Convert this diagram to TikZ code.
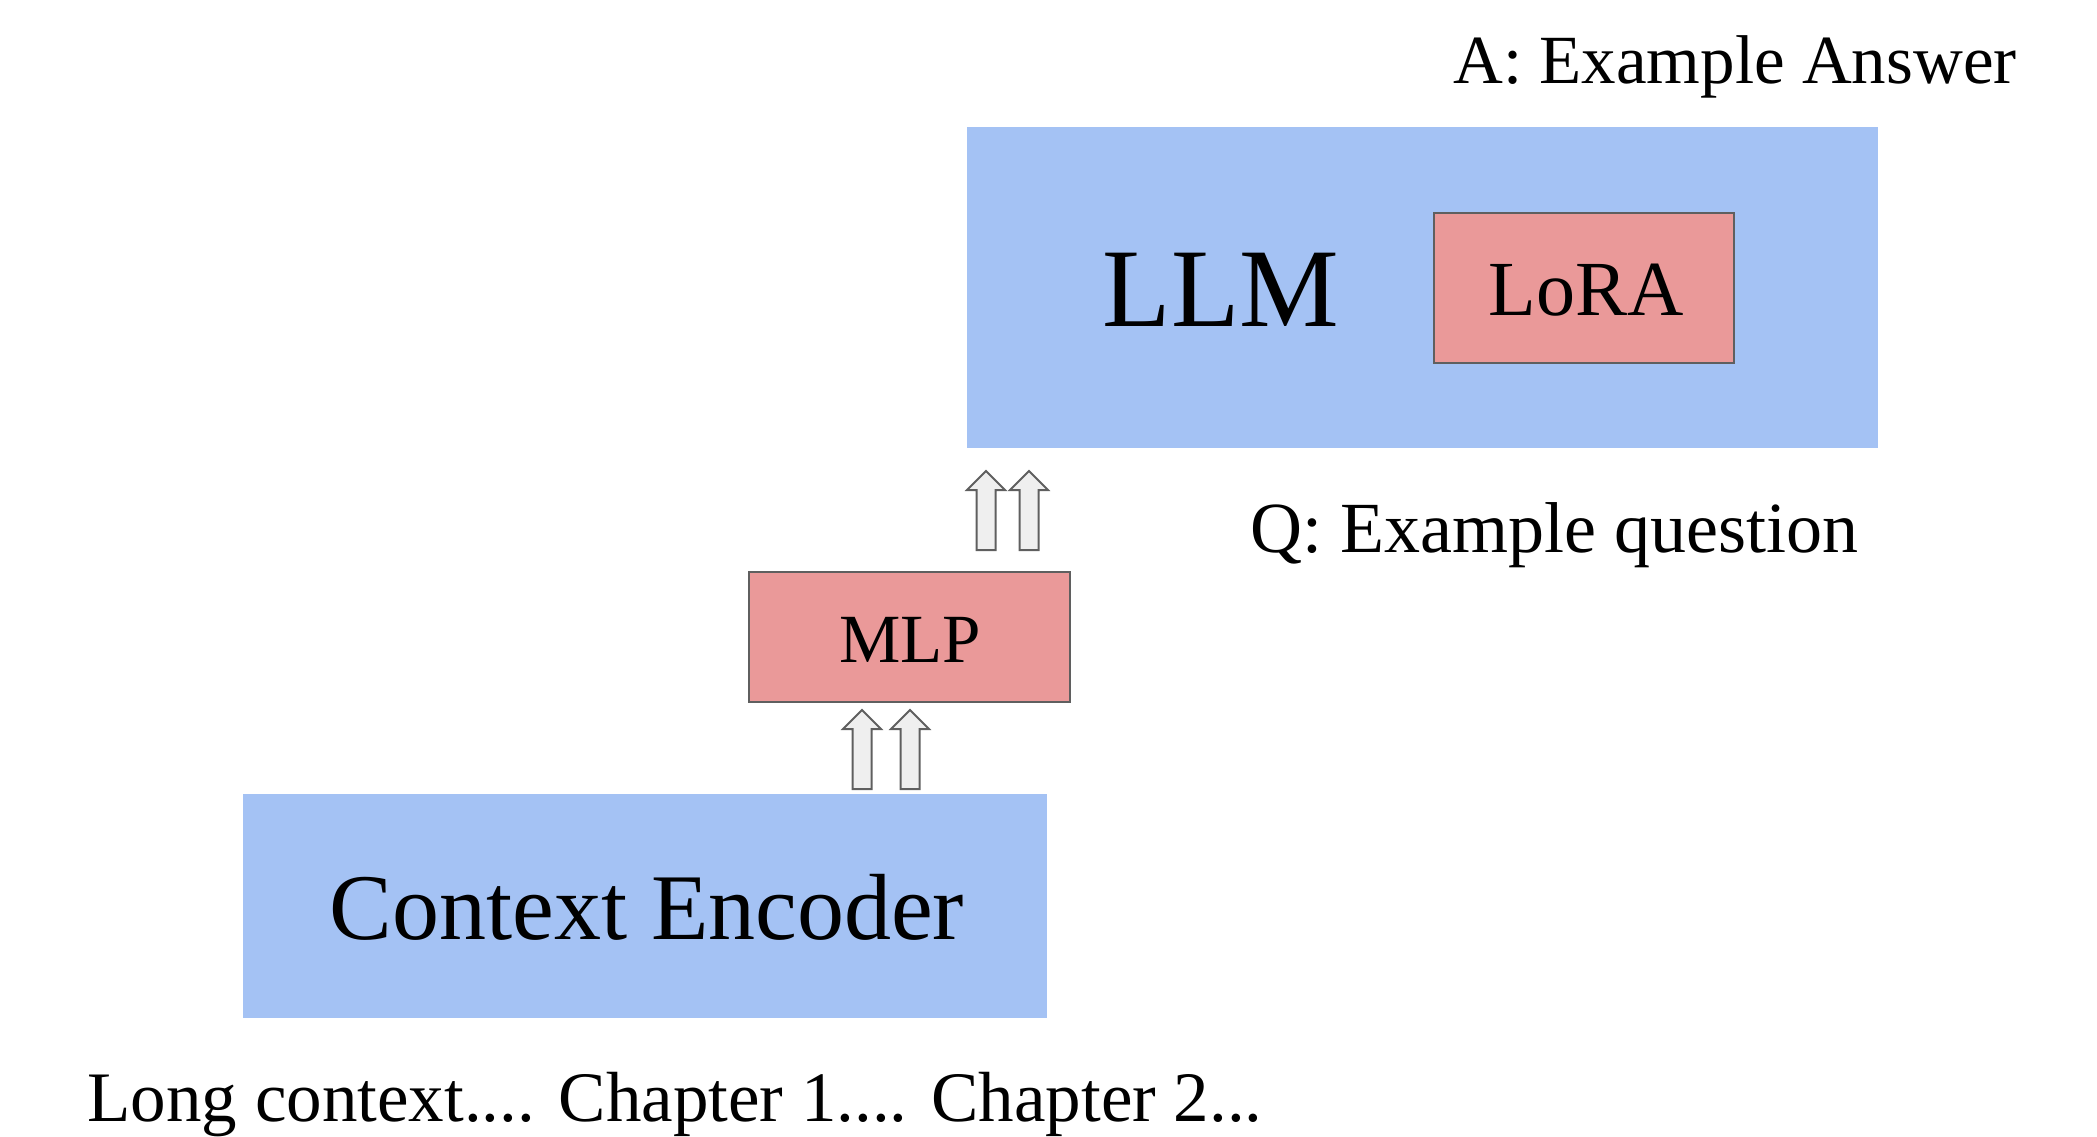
\documentclass[tikz,border=0pt]{standalone}
\usepackage{fontspec}
\setmainfont{Liberation Serif}
\definecolor{boxblue}{HTML}{A4C2F4}
\definecolor{boxred}{HTML}{EA9999}
\definecolor{arrowfill}{HTML}{EFEFEF}
\definecolor{edgegray}{HTML}{5F5F5F}
\begin{document}
\begin{tikzpicture}[x=0.5pt,y=-0.5pt,
  bluebox/.style={fill=boxblue,draw=none},
  redbox/.style={fill=boxred,draw=edgegray,line width=0.8pt},
  label/.style={inner sep=0pt,font=\fontsize{#1}{40}\selectfont},
  blockarrow/.pic={
    \draw[fill=arrowfill,draw=edgegray,line width=1pt,line join=miter]
      (-9.5,0) -- (-9.5,-60) -- (-19,-60) -- (0,-79) -- (19,-60)
      -- (9.5,-60) -- (9.5,0) -- cycle;
  }]
\useasboundingbox (0,0) rectangle (2097,1136);

% main blocks
\fill[bluebox] (967,127) rectangle (1878,448);
\node[inner sep=0pt,font=\fontsize{56}{64}\selectfont] (llm) at (1221,290) {LLM};
\draw[redbox] (1434,213) rectangle (1734,363);
\node[inner sep=0pt,font=\fontsize{39}{46}\selectfont] (lora) at (1586,290) {LoRA};

\draw[redbox] (749,572) rectangle (1070,702);
\node[inner sep=0pt,font=\fontsize{34.5}{42}\selectfont] (mlp) at (910,640) {MLP};

\fill[bluebox] (243,794) rectangle (1047,1018);
\node[inner sep=0pt,font=\fontsize{47}{56}\selectfont] (enc) at (647,907) {Context Encoder};

% token flow arrows
\pic at (862,789) {blockarrow};
\pic at (910,789) {blockarrow};
\pic at (986,550) {blockarrow};
\pic at (1029,550) {blockarrow};

% input / output texts
\node[label=34.5,anchor=base] (ans) at (1735,83) {A: Example Answer};
\node[label=36,anchor=base] (q) at (1554,552) {Q: Example question};
\node[label=35.5,anchor=base] (ctx) at (675,1121) {Long context.... Chapter 1.... Chapter 2...};
\end{tikzpicture}
\end{document}
